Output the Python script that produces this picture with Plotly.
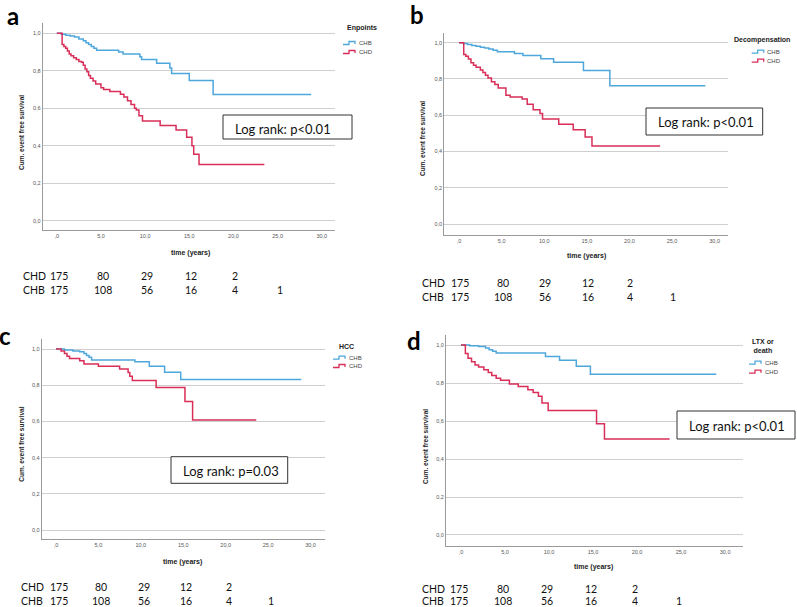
import plotly.graph_objects as go

W, H = 797, 607

# axis ticks (SPSS style decimal commas)
x_ticks = [0, 5, 10, 15, 20, 25, 30]
x_tick_text = [",0", "5,0", "10,0", "15,0", "20,0", "25,0", "30,0"]
y_ticks = [0, 0.2, 0.4, 0.6, 0.8, 1.0]
y_tick_text = ["0,0", "0,2", "0,4", "0,6", "0,8", "1,0"]

# number at risk
risk_times = [0, 5, 10, 15, 20, 25]
risk_chd = [175, 80, 29, 12, 2]
risk_chb = [175, 108, 56, 16, 4, 1]

groups = ["CHB", "CHD"]
titles = ["<b>Enpoints</b>", "<b>Decompensation</b>", "<b>HCC</b>", "<b>LTX or<br>death</b>"]
letters = ["a", "b", "c", "d"]
log_rank = ["Log rank: p<0.01", "Log rank: p<0.01", "Log rank: p=0.03", "Log rank: p<0.01"]

# a) endpoints
a_chb_time = [0, 0.5, 1.0, 1.5, 2.0, 2.5, 3.0, 3.3, 3.6, 3.9, 4.2, 4.5, 7.0, 7.5, 9.4, 9.6, 11.3, 12.8, 13.0, 15.0, 17.7, 28.8]
a_chb_surv = [1.0, 0.995, 0.99, 0.985, 0.98, 0.97, 0.96, 0.95, 0.94, 0.93, 0.92, 0.91, 0.90, 0.89, 0.875, 0.86, 0.84, 0.815, 0.785, 0.748, 0.673, 0.673]
a_chd_time = [0, 0.6, 0.8, 1.0, 1.2, 1.4, 1.6, 1.9, 2.2, 2.5, 2.8, 3.0, 3.2, 3.4, 3.6, 3.8, 4.1, 4.4, 5.0, 5.3, 6.0, 7.2, 7.6, 8.0, 8.4, 8.8, 9.0, 9.3, 9.7, 11.7, 13.5, 14.7, 15.3, 15.5, 16.1, 23.5]
a_chd_surv = [1.0, 0.94, 0.93, 0.92, 0.905, 0.89, 0.88, 0.87, 0.86, 0.85, 0.845, 0.83, 0.81, 0.795, 0.775, 0.76, 0.745, 0.73, 0.71, 0.70, 0.69, 0.675, 0.66, 0.64, 0.62, 0.60, 0.59, 0.56, 0.532, 0.508, 0.484, 0.445, 0.40, 0.355, 0.30, 0.30]

# b) decompensation
b_chb_time = [0, 0.5, 1.0, 1.5, 2.0, 2.5, 3.0, 3.5, 4.0, 4.5, 6.5, 7.5, 9.6, 11.1, 14.6, 17.7, 28.9]
b_chb_surv = [1.0, 0.995, 0.99, 0.985, 0.98, 0.975, 0.97, 0.965, 0.958, 0.95, 0.94, 0.93, 0.912, 0.892, 0.847, 0.763, 0.763]
b_chd_time = [0, 0.55, 0.8, 1.1, 1.4, 1.7, 2.0, 2.5, 2.8, 3.1, 3.4, 3.8, 4.2, 4.6, 5.5, 6.0, 7.4, 8.0, 8.7, 9.5, 9.8, 11.7, 13.4, 14.8, 15.6, 23.6]
b_chd_surv = [1.0, 0.935, 0.925, 0.91, 0.89, 0.875, 0.865, 0.85, 0.835, 0.82, 0.805, 0.785, 0.77, 0.75, 0.71, 0.70, 0.69, 0.66, 0.63, 0.61, 0.58, 0.55, 0.52, 0.48, 0.43, 0.43]

# c) HCC
c_chb_time = [0, 1.0, 2.0, 2.8, 3.3, 3.6, 3.9, 4.2, 9.3, 11.0, 12.8, 14.7, 28.9]
c_chb_surv = [1.0, 0.995, 0.99, 0.985, 0.975, 0.965, 0.955, 0.94, 0.93, 0.905, 0.872, 0.832, 0.832]
c_chd_time = [0, 0.6, 1.0, 1.3, 1.6, 2.8, 3.3, 5.0, 7.5, 8.5, 8.7, 9.0, 11.8, 15.2, 16.1, 23.6]
c_chd_surv = [1.0, 0.99, 0.975, 0.96, 0.948, 0.935, 0.917, 0.905, 0.89, 0.87, 0.85, 0.827, 0.788, 0.71, 0.608, 0.608]

# d) LTX or death
d_chb_time = [0, 1.0, 2.0, 2.8, 3.2, 3.6, 4.0, 9.6, 11.2, 13.1, 14.7, 29.0]
d_chb_surv = [1.0, 0.997, 0.993, 0.985, 0.975, 0.967, 0.958, 0.94, 0.92, 0.889, 0.846, 0.846]
d_chd_time = [0, 0.5, 0.8, 1.2, 1.6, 2.0, 2.6, 3.1, 3.5, 4.0, 4.5, 5.5, 6.5, 7.6, 8.2, 8.8, 9.2, 9.9, 15.4, 16.3, 23.7]
d_chd_surv = [1.0, 0.955, 0.93, 0.912, 0.895, 0.885, 0.87, 0.855, 0.84, 0.825, 0.815, 0.795, 0.782, 0.765, 0.75, 0.73, 0.695, 0.655, 0.586, 0.505, 0.505]

curves = [
    (a_chb_time, a_chb_surv, a_chd_time, a_chd_surv),
    (b_chb_time, b_chb_surv, b_chd_time, b_chd_surv),
    (c_chb_time, c_chb_surv, c_chd_time, c_chd_surv),
    (d_chb_time, d_chb_surv, d_chd_time, d_chd_surv),
]

CHB_COL = "#4da6dc"
CHD_COL = "#d82e58"
FONT = "Liberation Sans, Arial, sans-serif"
LATO = "Lato, Liberation Sans, sans-serif"


def px(x):
    return x / W


def py(y):
    return 1 - y / H


# pixel geometry of each panel (layout only)
geo = [
    dict(xd=(42.7, 335), yd=(23, 230), xr=(-1.6, 31.5), yr=(-0.05, 1.055),
         letter=(5, 15), ytitle=(21, 133), xtitle=(190, 253),
         leg_title=(345, 28), leg_rows=(43, 52), glyph=343,
         box=(223, 115, 352, 139), box_text=(233, 129),
         risk_label=21, risk_rows=(276, 290), risk_shift=2),
    dict(xd=(444.3, 728.3), yd=(32.7, 235), xr=(-1.73, 31.6), yr=(-0.06, 1.055),
         letter=(408, 14), ytitle=(423, 139), xtitle=(586.7, 255.7),
         leg_title=(732, 40), leg_rows=(51.7, 60.7), glyph=751.7,
         box=(646, 108, 762.7, 135), box_text=(656, 121.5),
         risk_label=420, risk_rows=(283.3, 296.7), risk_shift=1),
    dict(xd=(41.7, 325), yd=(339.3, 539.3), xr=(-1.68, 31.7), yr=(-0.051, 1.054),
         letter=(-3, 335), ytitle=(20.7, 444), xtitle=(182.7, 561.7),
         leg_title=(337, 346.7), leg_rows=(357.7, 366), glyph=333,
         box=(171, 456.7, 287.7, 483.3), box_text=(181, 471),
         risk_label=19, risk_rows=(587, 600.5), risk_shift=3),
    dict(xd=(446, 742.7), yd=(335, 546), xr=(-1.7, 32), yr=(-0.058, 1.053),
         letter=(405, 340), ytitle=(425, 447), xtitle=(593.3, 566.7),
         leg_title=(763, 346), leg_rows=(362.7, 371.7), glyph=749,
         box=(677, 411, 795, 439), box_text=(687.3, 426),
         risk_label=420, risk_rows=(589, 600.5), risk_shift=-2),
]

fig = go.Figure()
annotations = []
shapes = []


def note(text, x, y, size, family=FONT, color="#222", xanchor="center", **kw):
    annotations.append(dict(text=text, x=px(x), y=py(y), xref="paper", yref="paper",
                            xanchor=xanchor, yanchor="middle", showarrow=False,
                            font=dict(family=family, size=size, color=color), **kw))


for i, g in enumerate(geo):
    n = i + 1
    xa = "x" if n == 1 else f"x{n}"
    ya = "y" if n == 1 else f"y{n}"
    chb_t, chb_s, chd_t, chd_s = curves[i]

    fig.add_trace(go.Scatter(x=chb_t, y=chb_s, mode="lines", name="CHB",
                             line=dict(shape="hv", color=CHB_COL, width=1.5),
                             xaxis=xa, yaxis=ya, showlegend=False))
    fig.add_trace(go.Scatter(x=chd_t, y=chd_s, mode="lines", name="CHD",
                             line=dict(shape="hv", color=CHD_COL, width=1.5),
                             xaxis=xa, yaxis=ya, showlegend=False))

    xkey = "xaxis" if n == 1 else f"xaxis{n}"
    ykey = "yaxis" if n == 1 else f"yaxis{n}"
    fig.update_layout(**{
        xkey: dict(domain=[px(g["xd"][0]), px(g["xd"][1])], range=list(g["xr"]),
                   anchor=ya, showgrid=False, zeroline=False,
                   showline=True, linecolor="#9a9a9a", linewidth=1,
                   tickvals=x_ticks, ticktext=x_tick_text, ticks="",
                   tickfont=dict(family=FONT, size=5.5, color="#555")),
        ykey: dict(domain=[py(g["yd"][1]), py(g["yd"][0])], range=list(g["yr"]),
                   anchor=xa, showgrid=True, gridcolor="#cfcfcf", gridwidth=1,
                   zeroline=False, showline=True, linecolor="#9a9a9a", linewidth=1,
                   tickvals=y_ticks, ticktext=y_tick_text, ticks="",
                   tickfont=dict(family=FONT, size=5.5, color="#555")),
    })

    # panel letter
    note(f"<b>{letters[i]}</b>", g["letter"][0], g["letter"][1], 24, family=LATO,
         color="#000", xanchor="left")
    # axis titles
    note("<b>Cum. event free survival</b>", g["ytitle"][0], g["ytitle"][1], 6.5, textangle=-90)
    note("<b>time (years)</b>", g["xtitle"][0], g["xtitle"][1], 7)
    # legend
    note(titles[i], g["leg_title"][0], g["leg_title"][1], 7,
         xanchor="center" if i == 3 else "left")
    for grp, row, col in zip(groups, g["leg_rows"], [CHB_COL, CHD_COL]):
        x0 = g["glyph"]
        note(grp, x0 + 13.5, row, 6, color="#444", xanchor="left")
        path = (f"M {px(x0)} {py(row + 1.5)} L {px(x0 + 6)} {py(row + 1.5)} "
                f"L {px(x0 + 6)} {py(row - 1.5)} L {px(x0 + 12)} {py(row - 1.5)} "
                f"L {px(x0 + 12)} {py(row + 1)}")
        shapes.append(dict(type="path", path=path, xref="paper", yref="paper",
                           line=dict(color=col, width=1.3)))
    # log rank box
    bx0, by0, bx1, by1 = g["box"]
    shapes.append(dict(type="rect", x0=px(bx0), x1=px(bx1), y0=py(by1), y1=py(by0),
                       xref="paper", yref="paper", line=dict(color="#333", width=1),
                       fillcolor="white", layer="above"))
    note(log_rank[i], g["box_text"][0], g["box_text"][1], 13, family=LATO,
         color="#111", xanchor="left")
    # number at risk table
    for lab, vals, row in zip(["CHD", "CHB"], [risk_chd, risk_chb], g["risk_rows"]):
        note(lab, g["risk_label"], row, 10.5, family=LATO, color="#111", xanchor="left")
        for t, v in zip(risk_times, vals):
            annotations.append(dict(text=str(v), x=t, xref=xa, y=py(row), yref="paper",
                                    xanchor="center", yanchor="middle", xshift=g["risk_shift"],
                                    showarrow=False, font=dict(family=LATO, size=10.5, color="#111")))

fig.update_layout(
    width=W, height=H,
    margin=dict(l=0, r=0, t=0, b=0),
    paper_bgcolor="white", plot_bgcolor="white",
    showlegend=False,
    annotations=annotations,
    shapes=shapes,
)

# page body has a default 8px margin; drop it so the figure fills the window
fig.write_html("out.html", config={"displayModeBar": False},
               post_script="document.body.style.margin='0px';")
